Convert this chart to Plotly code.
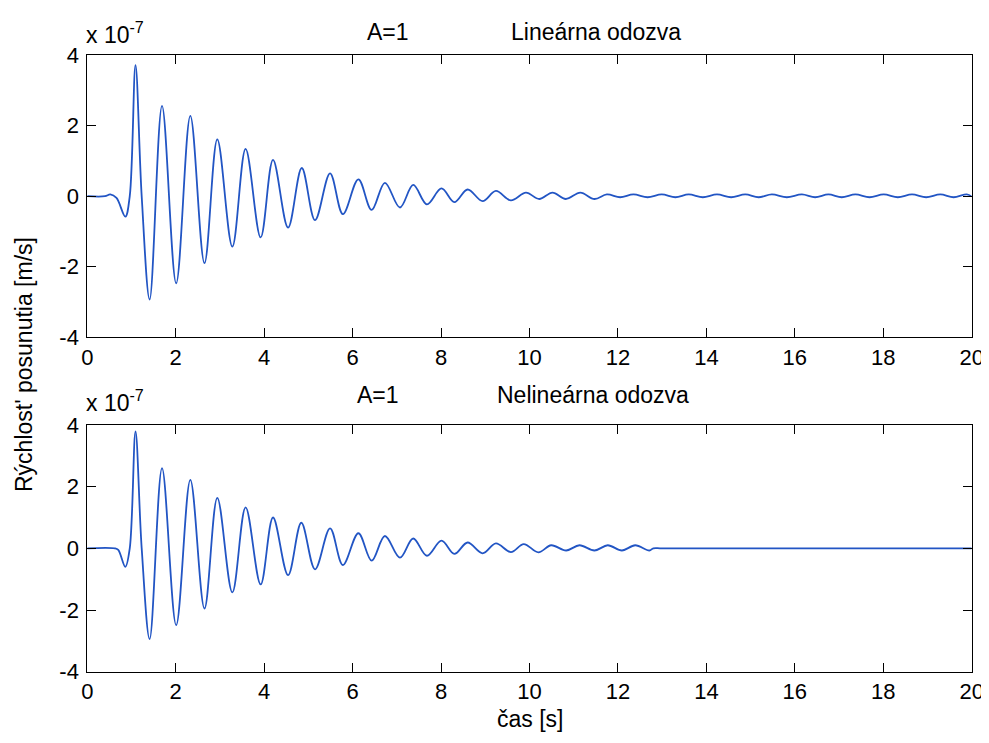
import plotly.graph_objects as go

# ---- data (time in s, velocity in 1e-7 m/s) ----
t_lin = [0.0, 0.40, 0.52, 0.66, 0.86, 0.96, 1.09, 1.23, 1.41, 1.69, 2.01, 2.33, 2.65, 2.94, 3.28,
         3.58, 3.92, 4.20, 4.54, 4.85, 5.15, 5.49, 5.78, 6.13, 6.43, 6.73, 7.07, 7.37, 7.68,
         8.01, 8.30, 8.60, 8.94, 9.24, 9.58, 9.92, 10.22, 10.52, 10.82, 11.15, 11.47,
         11.75, 12.05, 12.35, 12.67, 12.99, 13.30, 13.60, 13.92, 14.24, 14.56, 14.88, 15.18,
         15.48, 15.82, 16.16, 16.46, 16.76, 17.06, 17.37, 17.69, 18.01, 18.33, 18.65, 18.97,
         19.29, 19.59, 19.89, 20.0]
v_lin = [0.0, 0.0, 0.05, -0.05, -0.58, 0.0, 3.72, 0.0, -2.93, 2.56, -2.47, 2.28, -1.90, 1.61, -1.43,
         1.34, -1.17, 1.03, -0.89, 0.80, -0.68, 0.65, -0.51, 0.48, -0.39, 0.38, -0.32, 0.32, -0.23,
         0.22, -0.17, 0.19, -0.14, 0.15, -0.12, 0.10, -0.08, 0.10, -0.08, 0.10, -0.08,
         0.05, -0.03, 0.05, -0.03, 0.05, -0.03, 0.05, -0.03, 0.05, -0.03, 0.05, -0.03,
         0.05, -0.03, 0.05, -0.03, 0.05, -0.03, 0.05, -0.03, 0.05, -0.03, 0.05, -0.03,
         0.05, -0.03, 0.05, -0.01]

t_nl = [0.0, 0.62, 0.70, 0.86, 0.96, 1.09, 1.23, 1.41, 1.69, 2.01, 2.33, 2.65, 2.94, 3.28,
        3.58, 3.92, 4.20, 4.54, 4.84, 5.15, 5.49, 5.78, 6.13, 6.43, 6.73, 7.07, 7.37, 7.68,
        8.01, 8.30, 8.60, 8.94, 9.24, 9.58, 9.87, 10.20, 10.49, 10.83, 11.13, 11.47,
        11.77, 12.09, 12.39, 12.71, 12.80, 13.0, 20.0]
v_nl = [0.0, 0.0, -0.05, -0.60, 0.0, 3.79, 0.0, -2.94, 2.60, -2.49, 2.22, -1.95, 1.64, -1.43,
        1.33, -1.17, 1.00, -0.87, 0.83, -0.68, 0.65, -0.54, 0.49, -0.40, 0.40, -0.30, 0.32, -0.24,
        0.25, -0.18, 0.19, -0.16, 0.16, -0.12, 0.14, -0.13, 0.10, -0.07, 0.10, -0.07,
        0.10, -0.07, 0.10, -0.07, 0.0, 0.0, 0.0]

x_ticks = [0, 2, 4, 6, 8, 10, 12, 14, 16, 18, 20]
y_ticks = [-4, -2, 0, 2, 4]
y_ticktext = ["-4", "-2", "0", "2", "4"]

OFF = 8  # page body margin
W, H = 989 - OFF, 743 - 2 * OFF
FONT = "Liberation Sans, Arial, sans-serif"
LINE = "#2255c4"


def px(x):
    return (x - OFF) / W


def py(y):
    return 1 - (y - OFF) / H


fig = go.Figure()
fig.add_trace(go.Scatter(x=t_lin, y=v_lin, mode="lines", line=dict(color=LINE, width=1.8, shape="spline"),
                         xaxis="x", yaxis="y", showlegend=False))
fig.add_trace(go.Scatter(x=t_nl, y=v_nl, mode="lines", line=dict(color=LINE, width=1.8, shape="spline"),
                         xaxis="x2", yaxis="y2", showlegend=False))

xdom = [px(87.3), px(971.7)]
axis_common = dict(showline=True, linecolor="black", linewidth=1, mirror="allticks", ticks="inside",
                   ticklen=9, tickwidth=1, tickcolor="black", showgrid=False, zeroline=False,
                   tickfont=dict(family=FONT, size=22, color="black"), automargin=False)

fig.update_layout(
    width=W, height=H,
    margin=dict(l=0, r=0, t=0, b=0),
    paper_bgcolor="white", plot_bgcolor="white",
    xaxis=dict(domain=xdom, range=[0, 20], tickvals=x_ticks, anchor="y", ticklabelstandoff=0, **axis_common),
    yaxis=dict(domain=[py(337.2), py(55.2)], range=[-4, 4], tickvals=y_ticks, ticktext=y_ticktext,
               anchor="x", ticklabelstandoff=3, **axis_common),
    xaxis2=dict(domain=xdom, range=[0, 20], tickvals=x_ticks, anchor="y2", ticklabelstandoff=0, **axis_common),
    yaxis2=dict(domain=[py(671.7), py(425.0)], range=[-4, 4], tickvals=y_ticks, ticktext=y_ticktext,
                anchor="x2", ticklabelstandoff=3, **axis_common),
)

tf = dict(family=FONT, size=23, color="black")
ann = [
    dict(text="A=1", x=px(388), y=py(32), xanchor="center", yanchor="middle"),
    dict(text="Lineárna odozva", x=px(596), y=py(32), xanchor="center", yanchor="middle"),
    dict(text="A=1", x=px(378), y=py(395), xanchor="center", yanchor="middle"),
    dict(text="Nelineárna odozva", x=px(593), y=py(395), xanchor="center", yanchor="middle"),
    dict(text="x 10<sup>-7</sup>", x=px(84), y=py(50), xanchor="left", yanchor="bottom"),
    dict(text="x 10<sup>-7</sup>", x=px(84), y=py(418), xanchor="left", yanchor="bottom"),
    dict(text="Rýchlost' posunutia [m/s]", x=px(24), y=py(365), xanchor="center", yanchor="middle",
         textangle=-90),
    dict(text="čas [s]", x=px(530), y=py(719), xanchor="center", yanchor="middle"),
]
for a in ann:
    fig.add_annotation(xref="paper", yref="paper", showarrow=False, font=tf, **a)

fig.write_html("out.html")
